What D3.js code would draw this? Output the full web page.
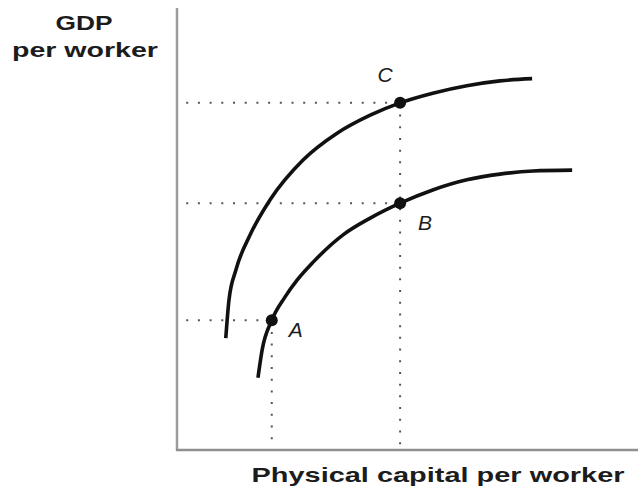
<!DOCTYPE html>
<html>
<head>
<meta charset="utf-8">
<script src="https://cdn.jsdelivr.net/npm/d3@7"></script>
<style>
  body { margin: 0; background: #fff; }
  svg text { font-family: "Liberation Sans", Arial, Helvetica, sans-serif; fill: #1c1c1c; }
</style>
</head>
<body>
<div id="chart"></div>
<script>
// curves, in abstract units (0..100 on both axes)
var upperCurve = [
    [10.6, 25.4], [11.3, 34.1], [12.8, 40.9], [15.9, 48.9], [20.2, 56.8],
    [27.4, 65.9], [34.8, 72.0], [42.0, 76.1], [48.5, 78.9], [55.6, 81.1],
    [63.0, 82.8], [70.2, 83.9], [77.2, 84.4]
];
var lowerCurve = [
    [17.6, 16.4], [18.5, 22.7], [20.6, 29.5], [23.5, 34.8], [26.1, 38.6],
    [29.6, 42.7], [36.1, 48.9], [42.0, 52.7], [48.5, 56.1], [55.6, 59.1],
    [63.0, 61.4], [70.2, 62.7], [77.4, 63.4], [85.9, 63.6]
];
var pointNames = ["A", "B", "C"];
var pointX = [20.6, 48.5, 48.5];
var pointY = [29.5, 56.1, 78.9];
var yLabel = ["GDP", "per worker"];
var xLabel = "Physical capital per worker";

var width = 638, height = 496;

var svg = d3.select("#chart")
    .append("svg")
    .attr("width", width)
    .attr("height", height);

var x = d3.scaleLinear().domain([0, 100]).range([177, 637]);
var y = d3.scaleLinear().domain([0, 100]).range([450, 10]);

// axes
svg.append("line")
    .attr("x1", x(0)).attr("x2", x(0))
    .attr("y1", y(0) + 1).attr("y2", y(100) - 2)
    .attr("stroke", "#9d9d9d").attr("stroke-width", 2.5);
svg.append("line")
    .attr("x1", x(0) - 1).attr("x2", x(100) + 1)
    .attr("y1", y(0)).attr("y2", y(0))
    .attr("stroke", "#8f8f8f").attr("stroke-width", 2.5);

// dotted guides
var guides = svg.append("g")
    .attr("stroke", "#555")
    .attr("stroke-width", 2)
    .attr("stroke-dasharray", "2 9.7")
    .attr("fill", "none");

pointNames.forEach(function(n, i) {
    guides.append("line")
        .attr("x1", x(2)).attr("x2", x(pointX[i]))
        .attr("y1", y(pointY[i])).attr("y2", y(pointY[i]));
    if (n != "B") {
        guides.append("line")
            .attr("x1", x(pointX[i])).attr("x2", x(pointX[i]))
            .attr("y1", y(pointY[i])).attr("y2", y(1));
    }
});

// curves
var line = d3.line()
    .x(function(d) { return x(d[0]); })
    .y(function(d) { return y(d[1]); })
    .curve(d3.curveMonotoneX);

[upperCurve, lowerCurve].forEach(function(c) {
    svg.append("path")
        .attr("d", line(c))
        .attr("fill", "none")
        .attr("stroke", "#111")
        .attr("stroke-width", 3.6);
});

// points + labels
var labelOffset = { A: [24, 17], B: [25, 27], C: [-15, -21] };

pointNames.forEach(function(n, i) {
    svg.append("circle")
        .attr("cx", x(pointX[i]))
        .attr("cy", y(pointY[i]))
        .attr("r", 6)
        .attr("fill", "#111");
    svg.append("text")
        .attr("x", x(pointX[i]) + labelOffset[n][0])
        .attr("y", y(pointY[i]) + labelOffset[n][1])
        .attr("text-anchor", "middle")
        .style("font-size", "21px")
        .style("font-style", "italic")
        .text(n);
});

// axis titles
svg.append("text")
    .attr("x", 84).attr("y", 30)
    .attr("text-anchor", "middle")
    .attr("textLength", 57)
    .attr("lengthAdjust", "spacingAndGlyphs")
    .style("font-size", "21px").style("font-weight", "bold")
    .text(yLabel[0]);
svg.append("text")
    .attr("x", 85).attr("y", 57)
    .attr("text-anchor", "middle")
    .attr("textLength", 146)
    .attr("lengthAdjust", "spacingAndGlyphs")
    .style("font-size", "21px").style("font-weight", "bold")
    .text(yLabel[1]);
svg.append("text")
    .attr("x", 438).attr("y", 482)
    .attr("text-anchor", "middle")
    .attr("textLength", 373)
    .attr("lengthAdjust", "spacingAndGlyphs")
    .style("font-size", "21px").style("font-weight", "bold")
    .text(xLabel);
</script>
</body>
</html>
